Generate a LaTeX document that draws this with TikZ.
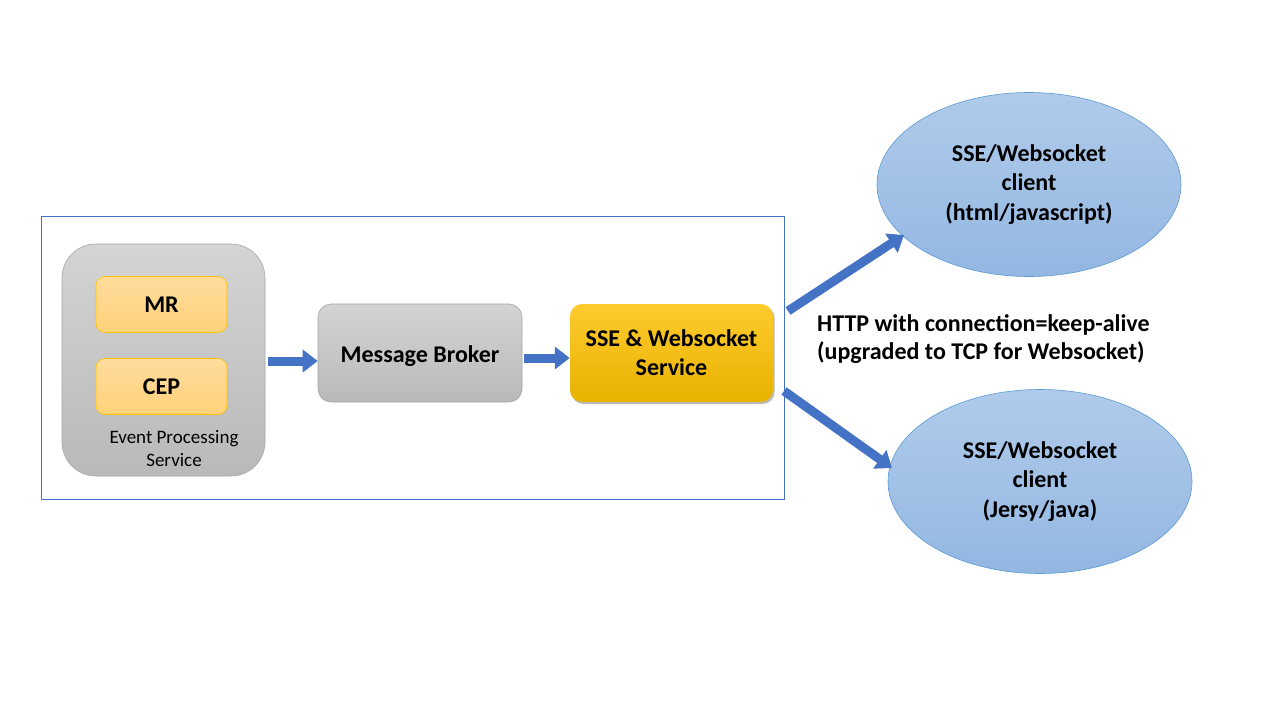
\documentclass[tikz,border=0pt]{standalone}
\usepackage{fontspec}
\setmainfont{Carlito}
\usetikzlibrary{arrows.meta,shapes.geometric,shadows}
\definecolor{frameblue}{HTML}{4472C4}
\definecolor{arrowblue}{HTML}{4472C4}
\definecolor{graytop}{HTML}{D4D4D4}
\definecolor{graybot}{HTML}{B9B9B9}
\definecolor{grayline}{HTML}{A6A6A6}
\definecolor{ortop}{HTML}{FFDC9C}
\definecolor{orbot}{HTML}{FFD27A}
\definecolor{orline}{HTML}{FFC000}
\definecolor{goldtop}{HTML}{FFCB2E}
\definecolor{goldbot}{HTML}{E8B200}
\definecolor{ell top}{HTML}{B0CBEA}
\definecolor{ell bot}{HTML}{93B7E2}
\definecolor{ellline}{HTML}{5B9BD5}
\tikzset{
  graybox/.style={draw=grayline, top color=graytop, bottom color=graybot, line width=0.6pt},
  orbox/.style={draw=orline, top color=ortop, bottom color=orbot, rounded corners=9pt, line width=0.6pt,
     minimum width=131pt, minimum height=56pt, font=\fontsize{24}{28}\selectfont\bfseries},
  goldbox/.style={draw=none, top color=goldtop, bottom color=goldbot, rounded corners=12pt,
     minimum width=203pt, minimum height=98pt, align=center, font=\fontsize{24}{29}\selectfont\bfseries,
     drop shadow={shadow xshift=1.5pt, shadow yshift=-2pt, fill=black!45, opacity=0.6}},
  client/.style={ellipse, draw=ellline, top color=ell top, bottom color=ell bot, line width=0.6pt,
     minimum width=304pt, minimum height=184pt, align=center, font=\fontsize{24}{29.5}\selectfont\bfseries},
  blockarrow/.style={draw=arrowblue, line width=9pt, -{Triangle[length=15pt, width=22pt]}},
}
\begin{document}
\begin{tikzpicture}[x=1pt, y=-1pt]
\useasboundingbox (0,0) rectangle (1280,720);
\fill[white] (0,0) rectangle (1280,720);
% outer frame
\draw[frameblue, line width=0.8pt] (41,216) rectangle (784,499);
% event processing service
\node[graybox, rounded corners=34pt, minimum width=203pt, minimum height=232pt] (eps) at (163.5,360) {};
\node[orbox] (mr) at (161.5,304.5) {MR};
\node[orbox] (cep) at (161.5,386.5) {CEP};
\node[align=center, font=\fontsize{19}{23}\selectfont] (epslabel) at (174,449) {Event Processing\\Service};
% message broker
\node[graybox, rounded corners=13pt, minimum width=204pt, minimum height=98pt,
      text height=23pt, text depth=4pt,
      font=\fontsize{24}{28}\selectfont\bfseries] (mb) at (420,353) {Message Broker};
% sse service
\node[goldbox] (sse) at (671.5,353) {SSE \& Websocket\\Service};
% clients
\node[client] (c1) at (1029,184.5) {SSE/Websocket\\client\\(html/javascript)};
\node[client] (c2) at (1040,481.5) {SSE/Websocket\\client\\(Jersy/java)};
% label
\node[anchor=west, align=left, inner sep=0pt, font=\fontsize{24}{28}\selectfont\bfseries] (http) at (817,339)
  {HTTP with connection=keep-alive\\(upgraded to TCP for Websocket)};
% arrows
\coordinate (a1s) at (268,361);
\coordinate (a2s) at (524,358);
\coordinate (u1) at (788,311);
\coordinate (u2) at (904,235);
\coordinate (d1) at (784,391);
\coordinate (d2) at (892,468);
\draw[blockarrow] (a1s) -- (mb.west |- a1s);
\draw[blockarrow] (a2s) -- (sse.west |- a2s);
\draw[blockarrow] (u1) -- (u2);
\draw[blockarrow] (d1) -- (d2);
\end{tikzpicture}
\end{document}
